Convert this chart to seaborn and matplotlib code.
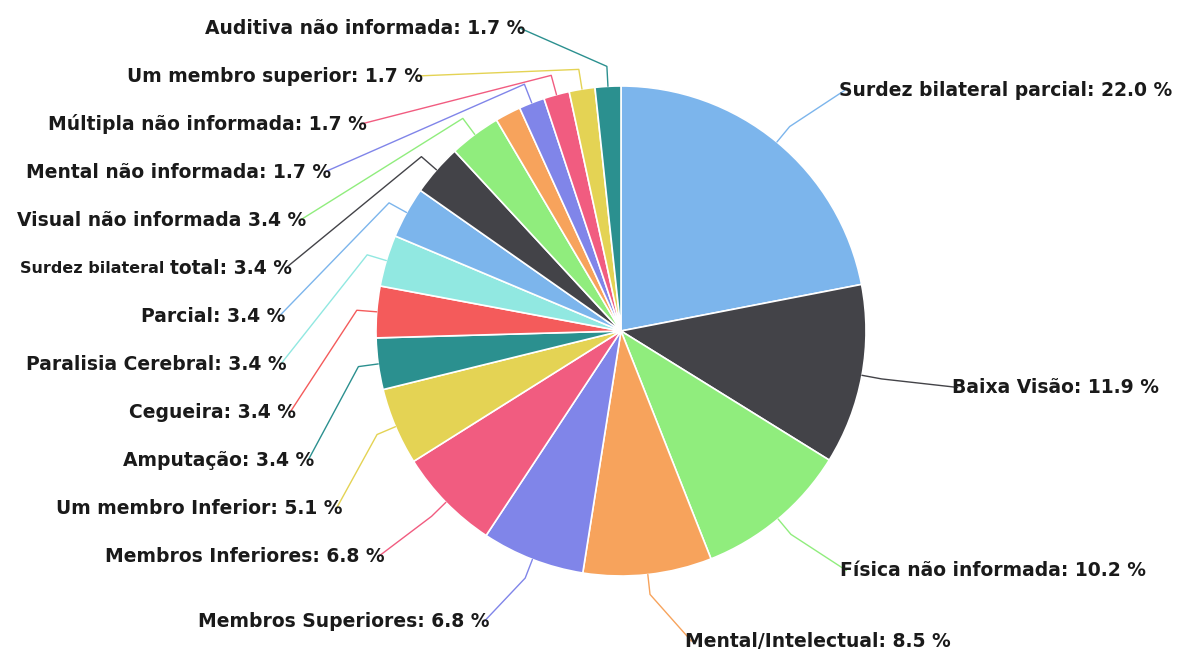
import numpy as np
import matplotlib.pyplot as plt
import seaborn as sns

# slices, clockwise from 12 o'clock
categories = [
    "Surdez bilateral parcial", "Baixa Visão", "Física não informada",
    "Mental/Intelectual", "Membros Superiores", "Membros Inferiores",
    "Um membro Inferior", "Amputação", "Cegueira", "Paralisia Cerebral",
    "Parcial", "Surdez bilateral total", "Visual não informada",
    None, "Mental não informada", "Múltipla não informada",
    "Um membro superior", "Auditiva não informada",
]
values = [22.0, 11.9, 10.2, 8.5, 6.8, 6.8, 5.1, 3.4, 3.4, 3.4, 3.4, 3.4, 3.4,
          1.7, 1.7, 1.7, 1.7, 1.7]
colors = ["#7cb5ec", "#434348", "#90ed7d", "#f7a35c", "#8085e9", "#f15c80",
          "#e4d354", "#2b908f", "#f45b5b", "#91e8e1",
          "#7cb5ec", "#434348", "#90ed7d", "#f7a35c", "#8085e9", "#f15c80",
          "#e4d354", "#2b908f"]
no_colon = {"Visual não informada"}
# in the original this label starts in a smaller font
small_prefix = {"Surdez bilateral total": "Surdez bilateral "}

W, H = 1192, 651
cx, cy, r = 621, 331, 245

sns.set_theme(style="white")
plt.rcParams["font.family"] = ["DejaVu Sans"]

fig = plt.figure(figsize=(W / 100, H / 100), dpi=100)
ax = fig.add_axes([0, 0, 1, 1])
ax.pie(values, colors=colors, startangle=90, counterclock=False,
       center=(cx, H - cy), radius=r,
       wedgeprops=dict(edgecolor="white", linewidth=1.2))
ax.set_xlim(0, W)
ax.set_ylim(0, H)
ax.set_aspect("equal")
ax.axis("off")

vals = np.array(values)
mids = 2 * np.pi * (np.cumsum(vals) - vals / 2) / vals.sum()

# label layout (pixel space, y downwards)
ry_lab, rx_curve, ry_curve = 312, 336, 316
top_y, gap = 28, 48
nat_y = cy - ry_lab * np.cos(mids)
side = np.where(np.sin(mids) > 0, 1, -1)
lab_y = nat_y.copy()

left = [i for i in range(len(values)) if side[i] < 0 and categories[i]]
left.sort(key=lambda i: nat_y[i])
prev = top_y - gap
for i in left:
    lab_y[i] = max(nat_y[i], prev + gap)
    prev = lab_y[i]

txt_color = "#1a1a1a"
for i, name in enumerate(categories):
    if not name:
        continue
    y = lab_y[i]
    dx = rx_curve * np.sqrt(max(0.0, 1 - ((y - cy) / ry_curve) ** 2))
    x = cx + side[i] * dx
    sep = " " if name in no_colon else ": "
    prefix = small_prefix.get(name, "")
    main = name[len(prefix):]
    t = ax.text(x, H - y, f"{main}{sep}{values[i]:.1f} %",
                ha="left" if side[i] > 0 else "right", va="center",
                fontsize=13.5, fontweight="bold", color=txt_color)
    if prefix:
        ax.annotate(prefix.strip(), xy=(0, 0.45), xycoords=t,
                    xytext=(-4, 0), textcoords="offset points",
                    ha="right", va="center",
                    fontsize=11.5, fontweight="bold", color=txt_color)
    # connector: label -> bend -> slice edge
    a = mids[i]
    ex, ey = cx + r * np.sin(a), cy - r * np.cos(a)
    bx, by = cx + (r + 20) * np.sin(a), cy - (r + 20) * np.cos(a)
    ax.plot([x + side[i] * 6, bx, ex], [H - y, H - by, H - ey],
            color=colors[i], linewidth=1, solid_capstyle="round")

fig.savefig("out.png", dpi=100)
